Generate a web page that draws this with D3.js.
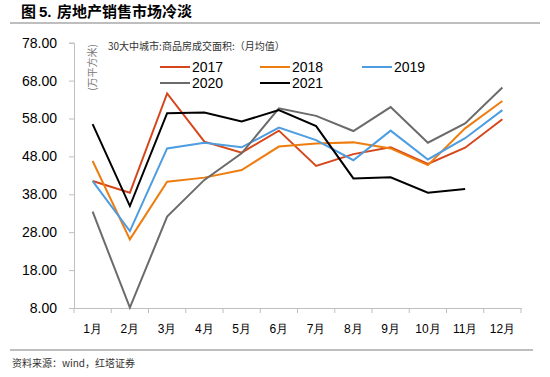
<!DOCTYPE html>
<html lang="zh">
<head>
<meta charset="UTF-8">
<script src="https://cdnjs.cloudflare.com/ajax/libs/d3/7.8.5/d3.min.js"></script>
<style>
  body { margin: 0; background: #fff; }
  svg { display: block; }
</style>
</head>
<body>
<svg width="550" height="377"></svg>
<script>
const months = ['1月','2月','3月','4月','5月','6月','7月','8月','9月','10月','11月','12月'];
const yTicks = [8, 18, 28, 38, 48, 58, 68, 78];

const s2017 = [41.5, 38.4, 64.6, 51.9, 49.0, 54.8, 45.5, 48.6, 50.4, 46.0, 50.3, 57.8];
const s2018 = [46.8, 26.1, 41.3, 42.4, 44.4, 50.6, 51.4, 51.7, 50.1, 45.7, 55.4, 62.6];
const s2019 = [41.5, 28.3, 50.1, 51.6, 50.4, 55.6, 52.3, 47.0, 54.8, 47.2, 52.8, 60.2];
const s2020 = [33.4, 8.1, 32.1, 41.8, 48.8, 60.7, 58.7, 54.7, 61.0, 51.6, 56.7, 66.2];
const s2021 = [56.5, 34.9, 59.4, 59.6, 57.2, 60.2, 56.0, 42.2, 42.5, 38.4, 39.4];

const seriesNames = ['2017', '2018', '2019', '2020', '2021'];
const seriesColors = ['#d6461b', '#ee7d0f', '#4d9de0', '#6b6b6b', '#000000'];
const seriesData = [s2017, s2018, s2019, s2020, s2021];

const svg = d3.select('svg');
const margin = {left: 74, right: 29, top: 42.7, bottom: 69};
const W = 550, H = 377;

const x = d3.scaleBand().domain(months).range([margin.left, W - margin.right]);
const y = d3.scaleLinear().domain([8, 78]).range([H - margin.bottom, margin.top]);

// title
svg.append('text')
    .attr('x', 21).attr('y', 17)
    .style('font-family', '"Noto Sans CJK SC", sans-serif')
    .style('font-size', '15px').style('font-weight', 'bold')
    .text('图');
svg.append('text')
    .attr('x', 39).attr('y', 17)
    .style('font-family', 'Arial, "Liberation Sans", sans-serif')
    .style('font-size', '15px').style('font-weight', 'bold')
    .text('5.');
svg.append('text')
    .attr('x', 57).attr('y', 17)
    .style('font-family', '"Noto Sans CJK SC", sans-serif')
    .style('font-size', '15px').style('font-weight', 'bold')
    .text('房地产销售市场冷淡');
svg.append('line')
    .attr('x1', 10).attr('x2', 540).attr('y1', 23).attr('y2', 23)
    .style('stroke', '#7f7f7f').style('stroke-width', 1.2);

// axes
const yAxis = d3.axisLeft(y).tickValues(yTicks).tickSize(5).tickFormat(d3.format('.2f'));
const gy = svg.append('g').attr('transform', `translate(${margin.left},0)`).call(yAxis);
gy.selectAll('path, line').style('stroke', '#bfbfbf');
gy.selectAll('text')
    .attr('x', -17)
    .style('font-family', 'Arial, "Liberation Sans", sans-serif')
    .style('font-size', '14px').style('fill', '#000');

const xAxis = d3.axisBottom(x).tickSize(0);
const gx = svg.append('g').attr('transform', `translate(0,${H - margin.bottom})`).call(xAxis);
gx.select('path').style('stroke', '#bfbfbf');
gx.selectAll('text')
    .attr('dy', 0).attr('y', 25)
    .style('font-family', 'Arial, "Liberation Sans", sans-serif')
    .style('font-size', '12px').style('fill', '#000');
// band boundary ticks
gx.selectAll('.band-tick')
    .data(months.concat(['end']))
    .enter().append('line')
    .attr('x1', (d, i) => margin.left + i * x.step())
    .attr('x2', (d, i) => margin.left + i * x.step())
    .attr('y1', 0).attr('y2', 5)
    .style('stroke', '#bfbfbf');

// lines
const line = d3.line()
    .x((d, i) => x(months[i]) + x.bandwidth() / 2)
    .y(d => y(d));

seriesData.forEach((s, k) => {
    svg.append('path')
        .datum(s)
        .attr('d', line)
        .style('fill', 'none')
        .style('stroke', seriesColors[k])
        .style('stroke-width', 2);
});

// unit label and legend title
svg.append('text')
    .attr('transform', 'translate(96,44) rotate(-90)')
    .attr('text-anchor', 'end')
    .style('font-family', '"Noto Sans CJK SC", serif')
    .style('font-size', '10px').style('fill', '#777')
    .text('(万平方米)');
svg.append('text')
    .attr('x', 108).attr('y', 50)
    .style('font-family', '"Noto Sans CJK SC", serif')
    .style('font-size', '10px').style('fill', '#333')
    .text('30大中城市:商品房成交面积:（月均值）');

// legend
const legendPos = [[160, 67], [260, 67], [362, 67], [160, 83], [260, 83]];
seriesNames.forEach((name, k) => {
    const [lx, ly] = legendPos[k];
    svg.append('line')
        .attr('x1', lx).attr('x2', lx + 30).attr('y1', ly).attr('y2', ly)
        .style('stroke', seriesColors[k]).style('stroke-width', 2);
    svg.append('text')
        .attr('x', lx + 32).attr('y', ly + 5)
        .style('font-family', 'Arial, "Liberation Sans", sans-serif')
        .style('font-size', '14px').style('fill', '#000')
        .text(name);
});

// footer
svg.append('line')
    .attr('x1', 10).attr('x2', 533).attr('y1', 350).attr('y2', 350)
    .style('stroke', '#7f7f7f').style('stroke-width', 1.2);
svg.append('text')
    .attr('x', 12).attr('y', 367)
    .style('font-family', '"Noto Sans CJK SC", serif')
    .style('font-size', '10px').style('fill', '#333')
    .text('资料来源：wind，红塔证券');
</script>
</body>
</html>
